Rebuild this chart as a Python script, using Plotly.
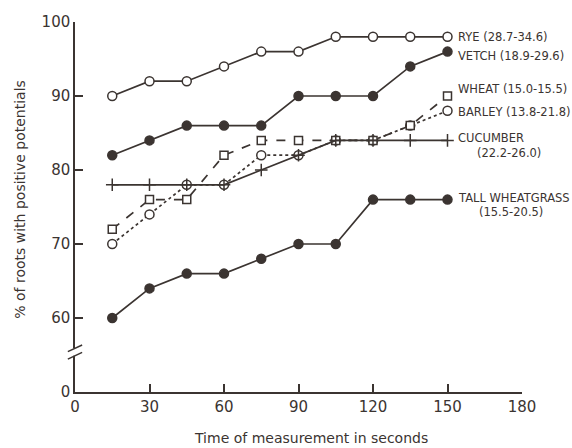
import plotly.graph_objects as go

# ---- data ----
time_s = [15, 30, 45, 60, 75, 90, 105, 120, 135, 150]
rye = [90, 92, 92, 94, 96, 96, 98, 98, 98, 98]
vetch = [82, 84, 86, 86, 86, 90, 90, 90, 94, 96]
wheat = [72, 76, 76, 82, 84, 84, 84, 84, 86, 90]
barley = [70, 74, 78, 78, 82, 82, 84, 84, 86, 88]
cucumber = [78, 78, 78, 78, 80, 82, 84, 84, 84, 84]
tall_wheatgrass = [60, 64, 66, 66, 68, 70, 70, 76, 76, 76]

label_names = ["RYE (28.7-34.6)", "VETCH (18.9-29.6)", "WHEAT (15.0-15.5)",
               "BARLEY (13.8-21.8)", "CUCUMBER", "(22.2-26.0)",
               "TALL WHEATGRASS", "(15.5-20.5)"]
label_y = [98, 95.4, 90.9, 87.8, 84.3, 82.3, 76.2, 74.3]
label_x = [153.5, 153.5, 153.5, 153.5, 153.5, 161, 153.5, 162]

x_ticks = [0, 30, 60, 90, 120, 150, 180]
y_tickvals = [50, 60, 70, 80, 90, 100]   # 50 stands for the broken-axis zero
y_ticktext = ["0", "60", "70", "80", "90", "100"]

INK = "#3b3431"
FONT = "DejaVu Sans"

fig = go.Figure()

def add(y, symbol, dash, fill, size=9):
    fig.add_trace(go.Scatter(
        x=time_s, y=y, mode="lines+markers",
        line=dict(color=INK, width=1.7, dash=dash),
        marker=dict(symbol=symbol, size=size, color=fill,
                    line=dict(color=INK, width=1.5)),
        showlegend=False, cliponaxis=False))

add(rye, "circle", "solid", "white")
add(vetch, "circle", "solid", INK)
add(barley, "circle", "dot", "white")
add(wheat, "square", "dash", "white", 8)
add(cucumber, "cross-thin", "solid", INK, 9)
add(tall_wheatgrass, "circle", "solid", INK)

for t, xv, yv in zip(label_names, label_x, label_y):
    fig.add_annotation(x=xv, y=yv, xref="x", yref="y", text=t, showarrow=False,
                       xanchor="left", yanchor="middle",
                       font=dict(family=FONT, size=11.5, color=INK))

# axis titles
fig.add_annotation(x=(311 - 75) / 447, y=-0.124, xref="paper", yref="paper",
                   text="Time of measurement in seconds", showarrow=False,
                   xanchor="center", yanchor="middle",
                   font=dict(family=FONT, size=14, color=INK))
fig.add_annotation(x=-0.125, y=0.52, xref="paper", yref="paper",
                   text="% of roots with positive potentials", showarrow=False,
                   textangle=-90, xanchor="center", yanchor="middle",
                   font=dict(family=FONT, size=14, color=INK))

# axis break marks
fig.add_shape(type="line", xref="paper", yref="y", x0=0, x1=0, y0=54.9, y1=55.9,
              line=dict(color="white", width=4), layer="above")
for v in (54.9, 55.9):
    fig.add_shape(type="line", xref="paper", yref="y", x0=-0.016, x1=0.016,
                  y0=v - 0.45, y1=v + 0.45, line=dict(color=INK, width=1.5),
                  layer="above")

fig.update_layout(
    width=572, height=448,
    margin=dict(l=75, r=50, t=22, b=56),
    paper_bgcolor="white", plot_bgcolor="white",
    font=dict(family=FONT, color=INK),
)
fig.update_xaxes(range=[0, 180], tickvals=x_ticks, showline=True, linecolor=INK,
                 linewidth=1.5, ticks="inside", ticklen=8, tickwidth=1.5,
                 tickcolor=INK, showgrid=False, zeroline=False,
                 tickfont=dict(family=FONT, size=15, color=INK))
fig.update_yaxes(range=[50, 100], tickvals=y_tickvals, ticktext=y_ticktext,
                 showline=True, linecolor=INK, linewidth=1.5, ticks="inside",
                 ticklen=8, tickwidth=1.5, tickcolor=INK, showgrid=False,
                 zeroline=False, tickfont=dict(family=FONT, size=15, color=INK))

fig.write_html("out.html")
